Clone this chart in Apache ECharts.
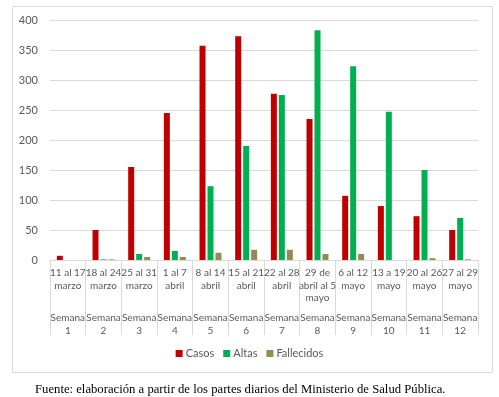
<!DOCTYPE html>
<html>
<head>
<meta charset="utf-8">
<script src="https://cdn.jsdelivr.net/npm/echarts@6/dist/echarts.min.js"></script>
<style>html,body{margin:0;padding:0;background:#fff;}#c{width:499px;height:397px;}</style>
</head>
<body>
<div id="c"></div>
<script>
const dateLabels = ["11 al 17\nmarzo","18 al 24\nmarzo","25 al 31\nmarzo","1 al 7\nabril","8 al 14\nabril","15 al 21\nabril","22 al 28\nabril","29 de\nabril al 5\nmayo","6 al 12\nmayo","13 a 19\nmayo","20 al 26\nmayo","27 al 29\nmayo"];
const weekLabels = ["Semana\n1","Semana\n2","Semana\n3","Semana\n4","Semana\n5","Semana\n6","Semana\n7","Semana\n8","Semana\n9","Semana\n10","Semana\n11","Semana\n12"];
const casos = [7, 50, 155, 245, 357, 373, 277, 235, 107, 90, 73, 50];
const altas = [0, 1, 10, 15, 123, 190, 275, 383, 323, 247, 150, 70];
const fallecidos = [0, 1, 5, 5, 12, 17, 17, 10, 10, 0, 3, 1];
const yTicks = [0, 50, 100, 150, 200, 250, 300, 350, 400];

const FONT = 'Lato';
const TXT = '#595959';
const chart = echarts.init(document.getElementById('c'), null, {renderer: 'canvas'});
chart.setOption({
  animation: false,
  textStyle: {fontFamily: FONT},
  grid: {left: 50, right: 21, top: 20, bottom: 137},
  legend: {
    data: ['Casos', 'Altas', 'Fallecidos'],
    bottom: 33, left: 'center',
    icon: 'rect', itemWidth: 7, itemHeight: 7, itemGap: 9,
    textStyle: {color: TXT, fontSize: 11, fontFamily: FONT, padding: [0, 0, 0, -2]}
  },
  xAxis: [{
    type: 'category', data: dateLabels, position: 'bottom',
    axisLine: {show: true, lineStyle: {color: '#d9d9d9', width: 1}},
    axisTick: {show: true, length: 75, lineStyle: {color: '#d9d9d9'}},
    axisLabel: {interval: 0, color: TXT, fontSize: 10, lineHeight: 12.5, margin: 7, fontFamily: FONT}
  }, {
    type: 'category', data: weekLabels, position: 'bottom', offset: 45,
    axisLine: {show: false}, axisTick: {show: false},
    axisLabel: {interval: 0, color: TXT, fontSize: 10, lineHeight: 13, margin: 6, fontFamily: FONT}
  }],
  yAxis: {
    type: 'value', min: 0, max: 400, interval: 50,
    axisLine: {show: false}, axisTick: {show: false},
    splitLine: {lineStyle: {color: '#d9d9d9', width: 1}},
    axisLabel: {color: TXT, fontSize: 11, margin: 12, fontFamily: FONT,
      formatter: v => yTicks.includes(v) ? String(v) : ''}
  },
  series: [
    {name: 'Casos', type: 'bar', data: casos, barWidth: 6, barGap: '33%', itemStyle: {color: '#C00000'}},
    {name: 'Altas', type: 'bar', data: altas, barWidth: 6, barGap: '33%', itemStyle: {color: '#00B050'}},
    {name: 'Fallecidos', type: 'bar', data: fallecidos, barWidth: 6, barGap: '33%', itemStyle: {color: '#948A54'}}
  ],
  graphic: [
    {type: 'rect', shape: {x: 12.5, y: 6.5, width: 480, height: 366}, style: {fill: null, stroke: '#d9d9d9', lineWidth: 1}, z: -1},
    {type: 'text', left: 35, top: 383, style: {text: 'Fuente: elaboración a partir de los partes diarios del Ministerio de Salud Pública.', font: '12.7px "Liberation Serif"', fill: '#000'}}
  ]
});
</script>
</body>
</html>
